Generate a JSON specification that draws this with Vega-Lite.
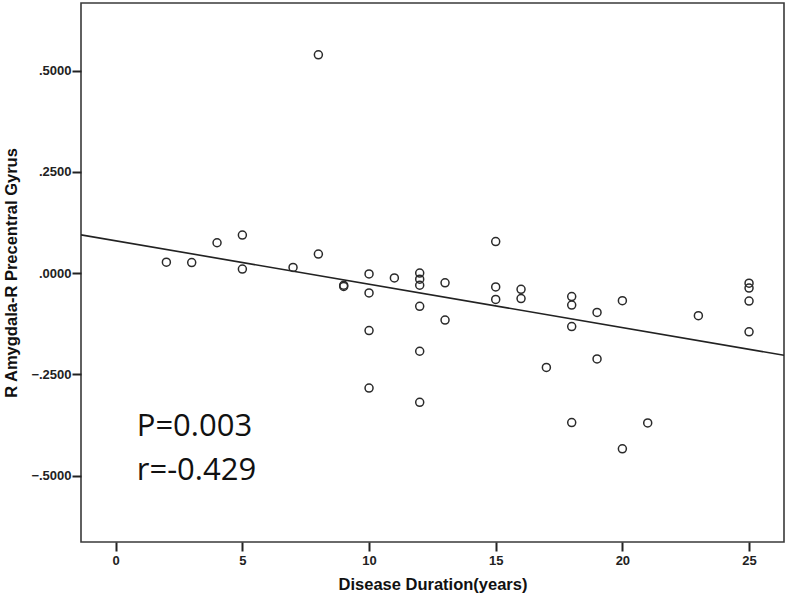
{
  "$schema": "https://vega.github.io/schema/vega-lite/v6.json",
  "width": 703,
  "height": 539,
  "autosize": "none",
  "padding": {"left": 81, "top": 3, "right": 3, "bottom": 59},
  "background": "white",
  "config": {
    "view": {"stroke": "#3a3a3a", "strokeWidth": 1.6},
    "axis": {
      "grid": false,
      "domain": false,
      "tickColor": "#222",
      "tickWidth": 2,
      "tickSize": 9,
      "labelFont": "Liberation Sans",
      "labelFontWeight": "bold",
      "labelFontSize": 13,
      "labelColor": "#222",
      "titleFont": "Liberation Sans",
      "titleFontWeight": "bold",
      "titleFontSize": 16.5,
      "titleColor": "#111"
    }
  },
  "datasets": {
    "points": [
      {"duration": 2, "fc": 0.027},
      {"duration": 3, "fc": 0.026},
      {"duration": 4, "fc": 0.075},
      {"duration": 5, "fc": 0.094},
      {"duration": 5, "fc": 0.010},
      {"duration": 7, "fc": 0.014},
      {"duration": 8, "fc": 0.047},
      {"duration": 8, "fc": 0.539},
      {"duration": 9, "fc": -0.030},
      {"duration": 9, "fc": -0.033},
      {"duration": 10, "fc": -0.002},
      {"duration": 10, "fc": -0.049},
      {"duration": 10, "fc": -0.142},
      {"duration": 10, "fc": -0.284},
      {"duration": 11, "fc": -0.012},
      {"duration": 12, "fc": 0.000},
      {"duration": 12, "fc": -0.015},
      {"duration": 12, "fc": -0.030},
      {"duration": 12, "fc": -0.082},
      {"duration": 12, "fc": -0.193},
      {"duration": 12, "fc": -0.319},
      {"duration": 13, "fc": -0.024},
      {"duration": 13, "fc": -0.116},
      {"duration": 15, "fc": 0.078},
      {"duration": 15, "fc": -0.034},
      {"duration": 15, "fc": -0.065},
      {"duration": 16, "fc": -0.040},
      {"duration": 16, "fc": -0.063},
      {"duration": 17, "fc": -0.233},
      {"duration": 18, "fc": -0.058},
      {"duration": 18, "fc": -0.079},
      {"duration": 18, "fc": -0.132},
      {"duration": 18, "fc": -0.369},
      {"duration": 19, "fc": -0.097},
      {"duration": 19, "fc": -0.212},
      {"duration": 20, "fc": -0.068},
      {"duration": 20, "fc": -0.434},
      {"duration": 21, "fc": -0.370},
      {"duration": 23, "fc": -0.105},
      {"duration": 25, "fc": -0.025},
      {"duration": 25, "fc": -0.037},
      {"duration": 25, "fc": -0.069},
      {"duration": 25, "fc": -0.145}
    ],
    "fit": [
      {"duration": -1.37, "fc": 0.0945},
      {"duration": 26.38, "fc": -0.203}
    ],
    "noteP": [{"label": "P=0.003"}],
    "noteR": [{"label": "r=-0.429"}]
  },
  "layer": [
    {
      "data": {"name": "fit"},
      "mark": {"type": "line", "color": "#222", "strokeWidth": 1.6, "clip": true},
      "encoding": {
        "x": {"field": "duration", "type": "quantitative", "scale": {"domain": [-1.37, 26.38], "nice": false, "zero": false},
          "axis": {"values": [0, 5, 10, 15, 20, 25], "title": "Disease Duration(years)", "labelPadding": 3, "titlePadding": 9}},
        "y": {"field": "fc", "type": "quantitative", "scale": {"domain": [-0.664, 0.667], "nice": false, "zero": false},
          "axis": {"values": [-0.5, -0.25, 0, 0.25, 0.5], "title": "R Amygdala-R Precentral Gyrus",
            "labelExpr": "replace(format(datum.value, '.4f'), '0.', '.')", "labelPadding": 1, "titlePadding": 11}}
      }
    },
    {
      "data": {"name": "points"},
      "mark": {"type": "point", "shape": "circle", "filled": false, "size": 64, "stroke": "#2a2a2a", "strokeWidth": 1.5, "opacity": 1},
      "encoding": {
        "x": {"field": "duration", "type": "quantitative"},
        "y": {"field": "fc", "type": "quantitative"}
      }
    },
    {
      "data": {"name": "noteP"},
      "mark": {"type": "text", "font": "Open Sans", "fontSize": 31, "color": "#111", "align": "left", "baseline": "alphabetic"},
      "encoding": {
        "text": {"field": "label"},
        "x": {"datum": 0.83},
        "y": {"datum": -0.403}
      }
    },
    {
      "data": {"name": "noteR"},
      "mark": {"type": "text", "font": "Open Sans", "fontSize": 31, "color": "#111", "align": "left", "baseline": "alphabetic"},
      "encoding": {
        "text": {"field": "label"},
        "x": {"datum": 0.83},
        "y": {"datum": -0.51}
      }
    }
  ]
}
